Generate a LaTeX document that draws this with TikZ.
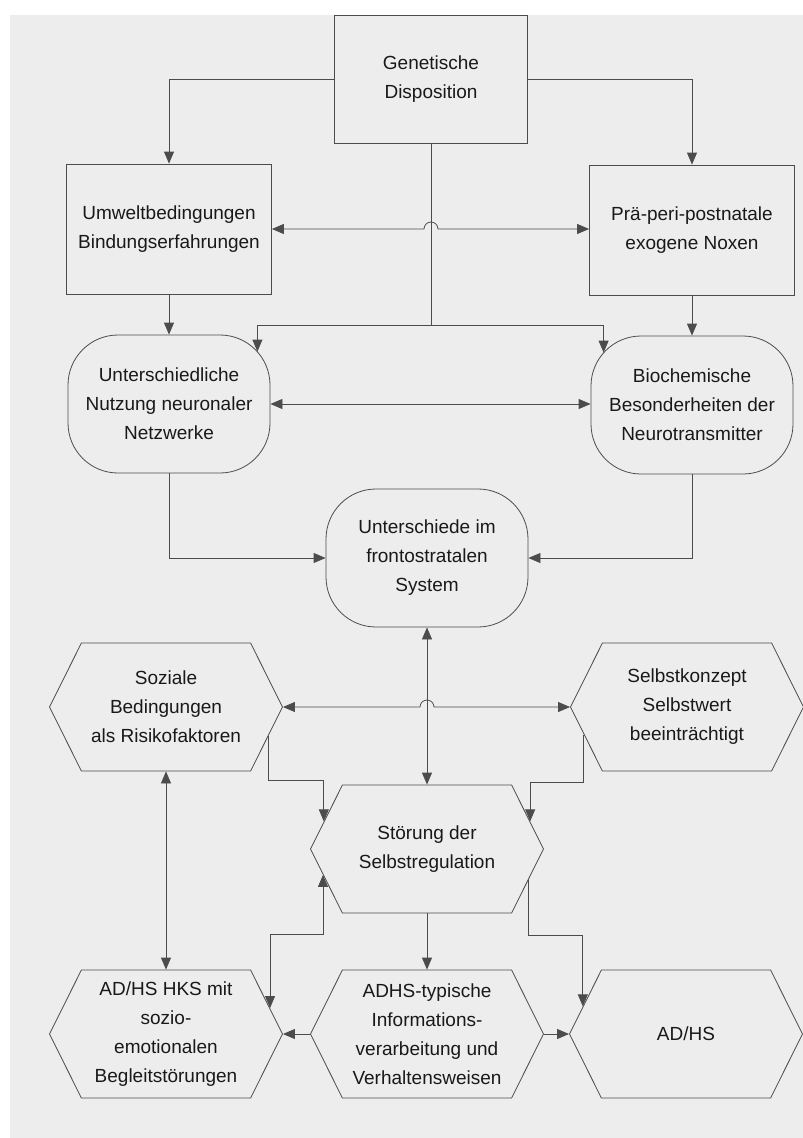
\documentclass[tikz,border=0pt]{standalone}
\usepackage{fontspec}
\setmainfont{Liberation Sans}
\usetikzlibrary{arrows.meta,shapes.symbols}

\begin{document}
\begin{tikzpicture}
  [
    x=1pt, y=1pt,
    >={Triangle[length=12pt, width=10pt]},
    line width=0.8pt, color=black!70,
    every node/.style={font=\fontsize{19}{29}\selectfont, text=black!90, align=center},
    FactorBox/.style={draw, rectangle, minimum width=205pt, minimum height=130pt, inner sep=2pt},
    RoundBlock/.style={draw, rectangle, rounded corners=50pt, inner sep=2pt, minimum width=202pt, minimum height=138pt},
    HexBlock/.style={draw, signal, signal to=west and east, signal pointer angle=127, inner sep=2pt, minimum width=233pt, minimum height=128pt},
  ]

  \fill [black!7] (10,-15) rectangle (803,-1138);
  \useasboundingbox (0,0) rectangle (803,-1138);

  \node [FactorBox, minimum width=193pt, minimum height=128pt] (gen) at (431,-79) {Genetische\\Disposition};
  \node [FactorBox] (umw) at (169,-229) {Umweltbedingungen\\Bindungserfahrungen};
  \node [FactorBox] (nox) at (692,-230) {Prä-peri-postnatale\\exogene Noxen};

  \node [RoundBlock] (netz) at (169,-404) {Unterschiedliche\\Nutzung neuronaler\\Netzwerke};
  \node [RoundBlock] (bio) at (692,-405) {Biochemische\\Besonderheiten der\\Neurotransmitter};
  \node [RoundBlock] (front) at (427,-558) {Unterschiede im\\frontostratalen\\System};

  \node [HexBlock] (soz) at (166,-707) {Soziale\\Bedingungen\\als Risikofaktoren};
  \node [HexBlock] (selbst) at (687,-707) {Selbstkonzept\\Selbstwert\\beeinträchtigt};
  \node [HexBlock] (stoer) at (427,-849) {Störung der\\Selbstregulation};

  \node [HexBlock] (hks) at (166,-1034) {AD/HS HKS mit\\sozio-\\emotionalen\\Begleitstörungen};
  \node [HexBlock] (typ) at (427,-1034) {ADHS-typische\\Informations-\\verarbeitung und\\Verhaltensweisen};
  \node [HexBlock] (adhs) at (686,-1034) {AD/HS};

  % top
  \draw [->] (gen.west) -| (umw.north);
  \draw [->] (gen.east) -| (nox.north);
  \draw (gen.south) -- (gen.south |- 0,-325) coordinate (split);
  \coordinate (hopA) at (gen.south |- umw.east);
  \draw [<->] (umw.east) -- ([xshift=-7pt]hopA) arc [start angle=180, end angle=0, radius=7pt] -- (nox.west |- umw.east);
  \draw [->] (split) -| ([shift={(-13pt,-17pt)}]netz.north east);
  \draw [->] (split) -| ([shift={(13pt,-17pt)}]bio.north west);
  \draw [->] (umw.south) -- (netz.north);
  \draw [->] (nox.south) -- (bio.north);
  \draw [<->] (netz.east) -- (bio.west |- netz.east);
  \draw [->] (netz.south) |- (front.west);
  \draw [->] (bio.south) |- (front.east);

  % middle
  \draw [<->] (front.south) -- (stoer.north);
  \coordinate (hopB) at (front.south |- soz.east);
  \draw [<->] (soz.east) -- ([xshift=-7pt]hopB) arc [start angle=180, end angle=0, radius=7pt] -- (selbst.west);
  \draw [<->] (soz.south) -- (hks.north);
  \draw [->] (soz.-16) -- (soz.-16 |- 0,-780) -| (stoer.165);
  \draw [->] (selbst.-165) -- (selbst.-165 |- 0,-782) -| (stoer.15);

  % bottom
  \draw [<->] (stoer.-166) -- (stoer.-166 |- 0,-934) -| (hks.14);
  \draw [->] (stoer.-17) -- (stoer.-17 |- 0,-935) -| (adhs.165);
  \draw [->] (stoer.south) -- (typ.north);
  \draw [->] (typ.west) -- (hks.east);
  \draw [->] (typ.east) -- (adhs.west);
\end{tikzpicture}
\end{document}
